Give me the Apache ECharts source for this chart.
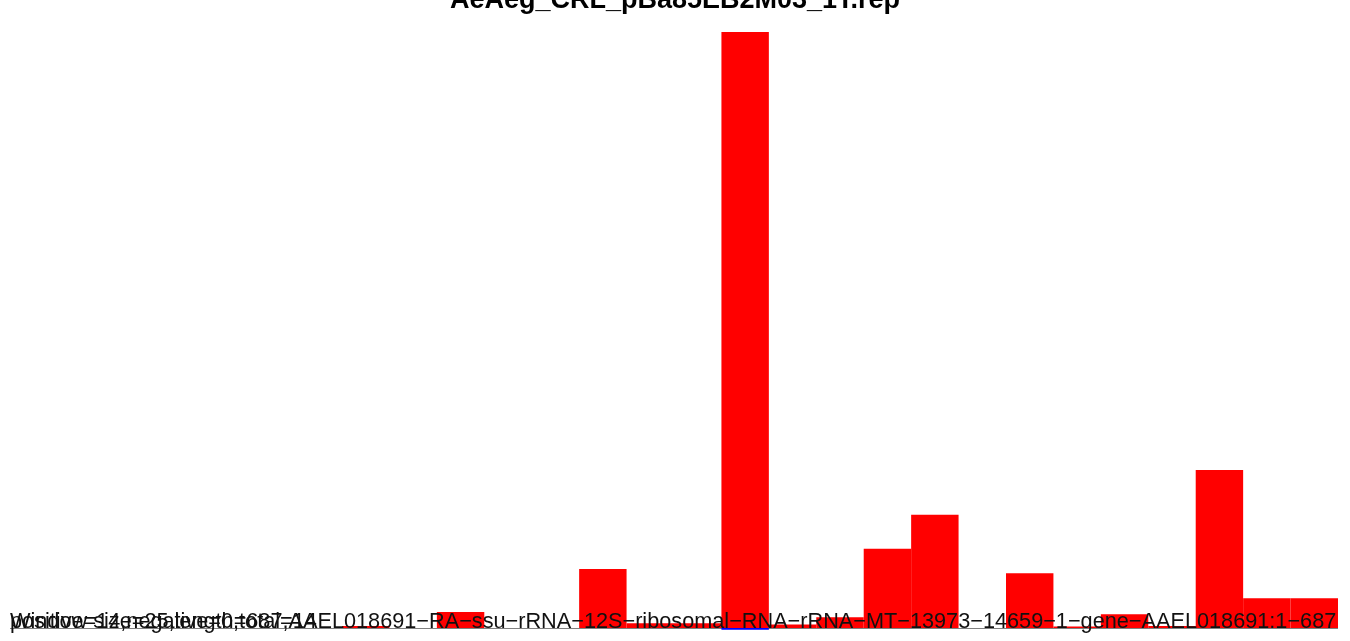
<!DOCTYPE html>
<html>
<head>
<meta charset="utf-8">
<script src="https://cdn.jsdelivr.net/npm/echarts@6/dist/echarts.min.js"></script>
<style>html,body{margin:0;padding:0;background:#fff;}#c{width:1350px;height:641px;}</style>
</head>
<body>
<div id="c"></div>
<script>
const titleText = 'AeAeg_CRL_pBa85EB2M03_1T.rep';
const footerText = 'Window size=25,length=687,AAEL018691\u2212RA\u2212ssu\u2212rRNA\u221212S\u2212ribosomal\u2212RNA\u2212rRNA\u2212MT\u221213973\u221214659\u22121\u2212gene\u2212AAEL018691:1\u2212687';
const countText = 'positive=14,negative=0,total=14';
// 28 windows of 25 nt
const windows = ['1','2','3','4','5','6','7','8','9','10','11','12','13','14','15','16','17','18','19','20','21','22','23','24','25','26','27','28'];
const positiveValues = [0,0,0,0,0,0,0,0.35,0,2.7,0,0,9.9,0.8,0.8,100,0.6,1.8,13.3,19,0,9.2,0.25,2.3,0.35,26.5,5.0,5.0];
const negativeValues = [0,0,0,0,0,0,0,0,0,0,0,0,0,0,0,-0.3,0,0,0,0,0,0,0,0,0,0,0,0];

const chart = echarts.init(document.getElementById('c'));
chart.setOption({
  animation: false,
  grid: {left: 10, right: 12, top: 32, bottom: 10},
  xAxis: {type: 'category', data: windows, show: false},
  yAxis: {type: 'value', min: -0.5, max: 100, show: false},
  series: [
    {type: 'bar', stack: 's', data: positiveValues, barCategoryGap: '0%', itemStyle: {color: '#FF0000'},
     markLine: {silent: true, symbol: 'none', label: {show: false}, lineStyle: {color: '#808080', width: 1, type: 'solid'}, data: [{yAxis: 0}], z: 1}},
    {type: 'bar', stack: 's', data: negativeValues, barCategoryGap: '0%', itemStyle: {color: '#0000FF'}}
  ],
  graphic: [
    {type: 'text', left: 'center', top: -13, z: 100, style: {text: titleText, font: 'bold 27px "Liberation Sans", Arial, sans-serif', fill: '#000'}},
    {type: 'text', x: 10, y: 622, z: 100, style: {text: footerText, font: '21.7px "Liberation Sans", Arial, sans-serif', fill: '#111', verticalAlign: 'middle', textAlign: 'left'}},
    {type: 'text', x: 10, y: 622, z: 100, style: {text: countText, font: '21.7px "Liberation Sans", Arial, sans-serif', fill: '#111', verticalAlign: 'middle', textAlign: 'left'}}
  ]
});
</script>
</body>
</html>
